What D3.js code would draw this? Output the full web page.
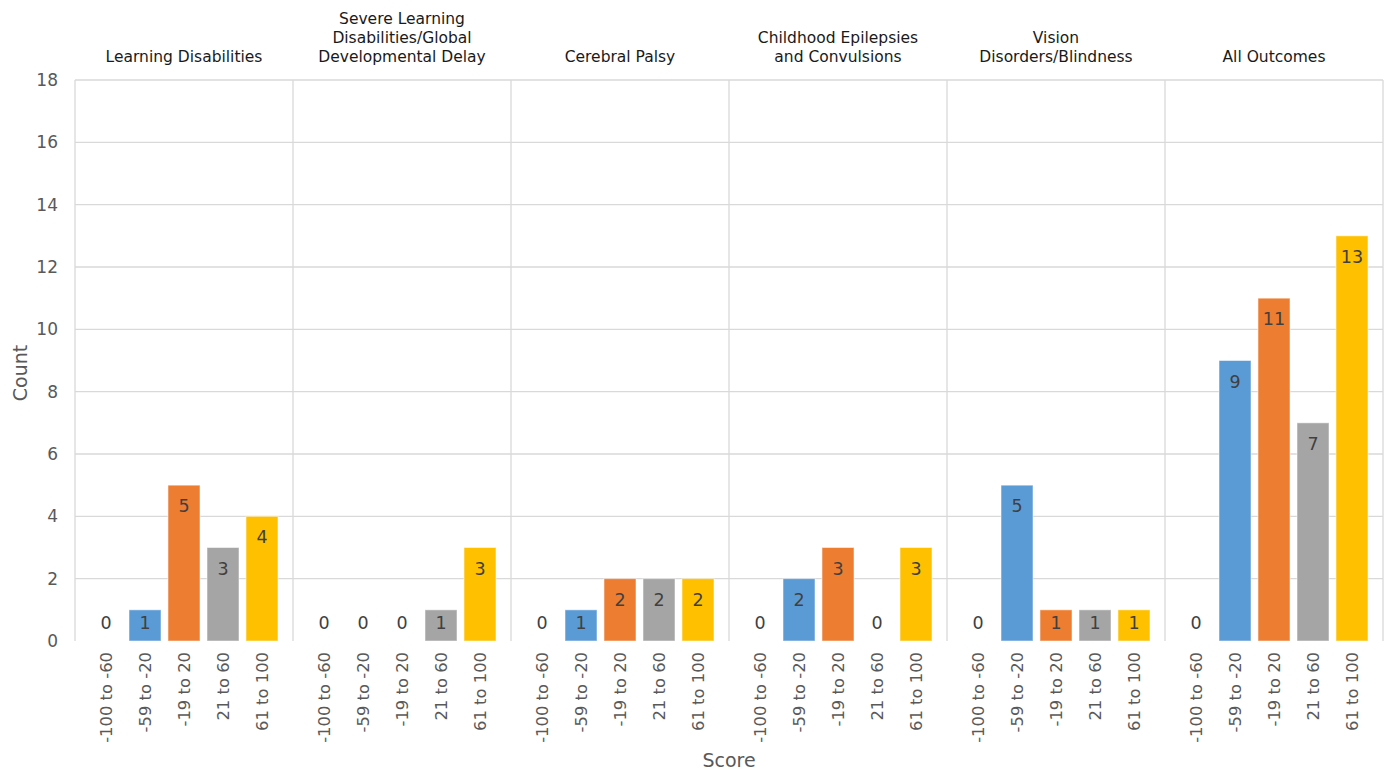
<!DOCTYPE html>
<html>
<head>
<meta charset="utf-8">
<script src="https://cdn.jsdelivr.net/npm/d3@7"></script>
<style>
  body { margin: 0; background: #fff; }
  text { font-family: "DejaVu Sans", Verdana, sans-serif; }
</style>
</head>
<body>
<svg id="chart" width="1390" height="772"></svg>
<script>
// panels and score bins
const panels = [
    ["Learning Disabilities"],
    ["Severe Learning", "Disabilities/Global", "Developmental Delay"],
    ["Cerebral Palsy"],
    ["Childhood Epilepsies", "and Convulsions"],
    ["Vision", "Disorders/Blindness"],
    ["All Outcomes"]
];
const bins = ["-100 to -60", "-59 to -20", "-19 to 20", "21 to 60", "61 to 100"];
const colors = ["#5B9BD5", "#5B9BD5", "#ED7D31", "#A5A5A5", "#FFC000"];

// counts per panel, in bin order
const learning = [0, 1, 5, 3, 4];
const severe = [0, 0, 0, 1, 3];
const palsy = [0, 1, 2, 2, 2];
const epilepsy = [0, 2, 3, 0, 3];
const vision = [0, 5, 1, 1, 1];
const allOutcomes = [0, 9, 11, 7, 13];
const counts = [learning, severe, palsy, epilepsy, vision, allOutcomes];

const yTicks = [0, 2, 4, 6, 8, 10, 12, 14, 16, 18];

const margin = { top: 80, right: 7, bottom: 131, left: 75 };
const width = 1390, height = 772;

const svg = d3.select("#chart");

const x0 = d3.scaleBand()
    .domain(d3.range(panels.length))
    .range([margin.left, width - margin.right]);

const x1 = d3.scaleBand()
    .domain(bins)
    .range([0, x0.bandwidth()])
    .paddingInner(0.18)
    .paddingOuter(0.385);

const y = d3.scaleLinear()
    .domain([0, 18])
    .range([height - margin.bottom, margin.top]);

// horizontal grid
svg.append("g")
    .selectAll("line")
    .data(yTicks.slice(1))
    .join("line")
    .attr("x1", margin.left)
    .attr("x2", width - margin.right)
    .attr("y1", d => y(d))
    .attr("y2", d => y(d))
    .attr("stroke", "#d9d9d9")
    .attr("stroke-width", 1.3);

// panel separators
svg.append("g")
    .selectAll("line")
    .data(d3.range(panels.length + 1))
    .join("line")
    .attr("x1", d => d < panels.length ? x0(d) : width - margin.right)
    .attr("x2", d => d < panels.length ? x0(d) : width - margin.right)
    .attr("y1", y(18))
    .attr("y2", y(0))
    .attr("stroke", "#d9d9d9")
    .attr("stroke-width", 1.3);

// y tick labels
svg.append("g")
    .selectAll("text")
    .data(yTicks)
    .join("text")
    .attr("x", 58)
    .attr("y", d => y(d))
    .attr("dy", "0.36em")
    .attr("text-anchor", "end")
    .attr("font-size", 17)
    .attr("fill", "#595959")
    .text(d => d);

const panel = svg.append("g")
    .selectAll("g")
    .data(counts)
    .join("g")
    .attr("transform", (d, i) => `translate(${x0(i)},0)`);

panel.selectAll("rect")
    .data(d => d.map((v, j) => ({ bin: bins[j], v, j })))
    .join("rect")
    .attr("x", d => x1(d.bin))
    .attr("width", x1.bandwidth())
    .attr("y", d => y(d.v))
    .attr("height", d => y(0) - y(d.v))
    .attr("fill", d => colors[d.j])
    .attr("stroke", d => d.v > 0 ? "#ffffff" : "none")
    .attr("stroke-opacity", 0.5)
    .attr("stroke-width", 1);

// labels sit inside the bar top, but never lower than just above the baseline
panel.selectAll("text.val")
    .data(d => d.map((v, j) => ({ bin: bins[j], v })))
    .join("text")
    .attr("class", "val")
    .attr("x", d => x1(d.bin) + x1.bandwidth() / 2)
    .attr("y", d => Math.min(y(d.v) + 27, y(0) - 12))
    .attr("text-anchor", "middle")
    .attr("font-size", 17.5)
    .attr("fill", "#404040")
    .text(d => d.v);

// category labels
panel.selectAll("text.cat")
    .data(bins)
    .join("text")
    .attr("class", "cat")
    .attr("transform", d => `translate(${x1(d) + x1.bandwidth() / 2},652) rotate(-90)`)
    .attr("dy", "0.35em")
    .attr("text-anchor", "end")
    .attr("font-size", 16.4)
    .attr("fill", "#595959")
    .text(d => d);

// panel titles
svg.append("g")
    .selectAll("text")
    .data(panels)
    .join("text")
    .attr("x", (d, i) => x0(i) + x0.bandwidth() / 2)
    .attr("y", 62)
    .attr("text-anchor", "middle")
    .attr("font-size", 15.5)
    .attr("fill", "#1a1a1a")
    .each(function (lines) {
        const n = lines.length;
        d3.select(this).selectAll("tspan")
            .data(lines)
            .join("tspan")
            .attr("x", d3.select(this).attr("x"))
            .attr("y", (l, k) => 62 - (n - 1 - k) * 19)
            .text(l => l);
    });

// axis titles
svg.append("text")
    .attr("transform", "translate(20,373) rotate(-90)")
    .attr("dy", "0.35em")
    .attr("text-anchor", "middle")
    .attr("font-size", 19)
    .attr("fill", "#595959")
    .text("Count");

svg.append("text")
    .attr("x", 729)
    .attr("y", 767)
    .attr("text-anchor", "middle")
    .attr("font-size", 19)
    .attr("fill", "#595959")
    .text("Score");
</script>
</body>
</html>
